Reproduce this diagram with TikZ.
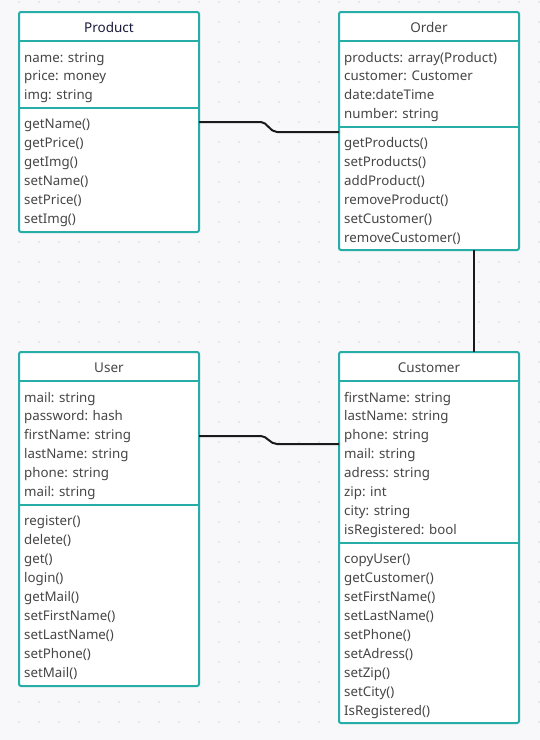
\documentclass[tikz,border=0pt]{standalone}
\usepackage{fontspec}
\setmainfont{Noto Sans}
\definecolor{bgcol}{HTML}{F8F8FA}
\definecolor{dotcol}{HTML}{D9D9DE}
\definecolor{teal}{HTML}{26ADA8}
\definecolor{txt}{HTML}{454545}
\definecolor{navy}{HTML}{1B1B3A}
\definecolor{conncol}{HTML}{1A1A1A}
\tikzset{
  classbox/.style={draw=teal, line width=2pt, fill=white, rounded corners=2pt, inner sep=0pt, outer sep=0pt, minimum width=180pt},
  divider/.style={draw=teal, line width=2pt},
  rowtext/.style={anchor=base west, inner sep=0pt, text=txt, font=\fontsize{13.3}{16}\selectfont},
  titletext/.style={anchor=base, inner sep=0pt, text=txt, font=\fontsize{13.5}{16}\selectfont},
  conn/.style={draw=conncol, line width=2pt}
}
\begin{document}
\begin{tikzpicture}[x=1pt,y=-1pt]
\useasboundingbox (0,0) rectangle (540,740);
\fill[bgcol] (0,0) rectangle (540,740);
\foreach \gx in {19,39,...,539}{
  \foreach \gy in {2,22,...,738}{
    \fill[dotcol] (\gx,\gy) circle (0.8pt);
  }
}
% boxes
\node[classbox, minimum height=220pt] (product) at (109,122) {};
\node[classbox, minimum height=238pt] (order) at (429,131) {};
\node[classbox, minimum height=334pt] (user) at (109,519) {};
\node[classbox, minimum height=371pt] (customer) at (429,537.5) {};
% dividers
\draw[divider] (product.west |- 0,41) -- (product.east |- 0,41);
\draw[divider] (product.west |- 0,108) -- (product.east |- 0,108);
\draw[divider] (order.west |- 0,41) -- (order.east |- 0,41);
\draw[divider] (order.west |- 0,127) -- (order.east |- 0,127);
\draw[divider] (user.west |- 0,381) -- (user.east |- 0,381);
\draw[divider] (user.west |- 0,505) -- (user.east |- 0,505);
\draw[divider] (customer.west |- 0,381) -- (customer.east |- 0,381);
\draw[divider] (customer.west |- 0,543) -- (customer.east |- 0,543);
% titles
\node[titletext, text=navy] (product-title) at (109,32.5) {Product};
\node[titletext] (order-title) at (429,32.5) {Order};
\node[titletext] (user-title) at (109,372.5) {User};
\node[titletext] (customer-title) at (429,372.5) {Customer};
% rows
\foreach \t [count=\i] in {name: string, price: money, img: string}
  \node[rowtext] (product-a\i) at (24,{62+18.95*(\i-1)}) {\t};
\foreach \t [count=\i] in {getName(), getPrice(), getImg(), setName(), setPrice(), setImg()}
  \node[rowtext] (product-m\i) at (24,{128.5+18.95*(\i-1)}) {\t};
\foreach \t [count=\i] in {products: array(Product), customer: Customer, date:dateTime, number: string}
  \node[rowtext] (order-a\i) at (344,{62+18.95*(\i-1)}) {\t};
\foreach \t [count=\i] in {getProducts(), setProducts(), addProduct(), removeProduct(), setCustomer(), removeCustomer()}
  \node[rowtext] (order-m\i) at (344,{147.5+18.95*(\i-1)}) {\t};
\foreach \t [count=\i] in {mail: string, password: hash, firstName: string, lastName: string, phone: string, mail: string}
  \node[rowtext] (user-a\i) at (24,{402+18.95*(\i-1)}) {\t};
\foreach \t [count=\i] in {register(), delete(), get(), login(), getMail(), setFirstName(), setLastName(), setPhone(), setMail()}
  \node[rowtext] (user-m\i) at (24,{525.5+18.95*(\i-1)}) {\t};
\foreach \t [count=\i] in {firstName: string, lastName: string, phone: string, mail: string, adress: string, zip: int, city: string, isRegistered: bool}
  \node[rowtext] (customer-a\i) at (344,{402+18.95*(\i-1)}) {\t};
\foreach \t [count=\i] in {copyUser(), getCustomer(), setFirstName(), setLastName(), setPhone(), setAdress(), setZip(), setCity(), IsRegistered()}
  \node[rowtext] (customer-m\i) at (344,{563.5+18.95*(\i-1)}) {\t};
% connectors
\draw[conn] (product.east |- 0,122) -- (261,122) .. controls (267,122) and (270,132) .. (277,132) -- (order.west |- 0,132);
\draw[conn] (user.east |- 0,436) -- (261,436) .. controls (267,436) and (270,444) .. (277,444) -- (customer.west |- 0,444);
\draw[conn] (order.south -| 474,0) -- (customer.north -| 474,0);
\end{tikzpicture}
\end{document}
